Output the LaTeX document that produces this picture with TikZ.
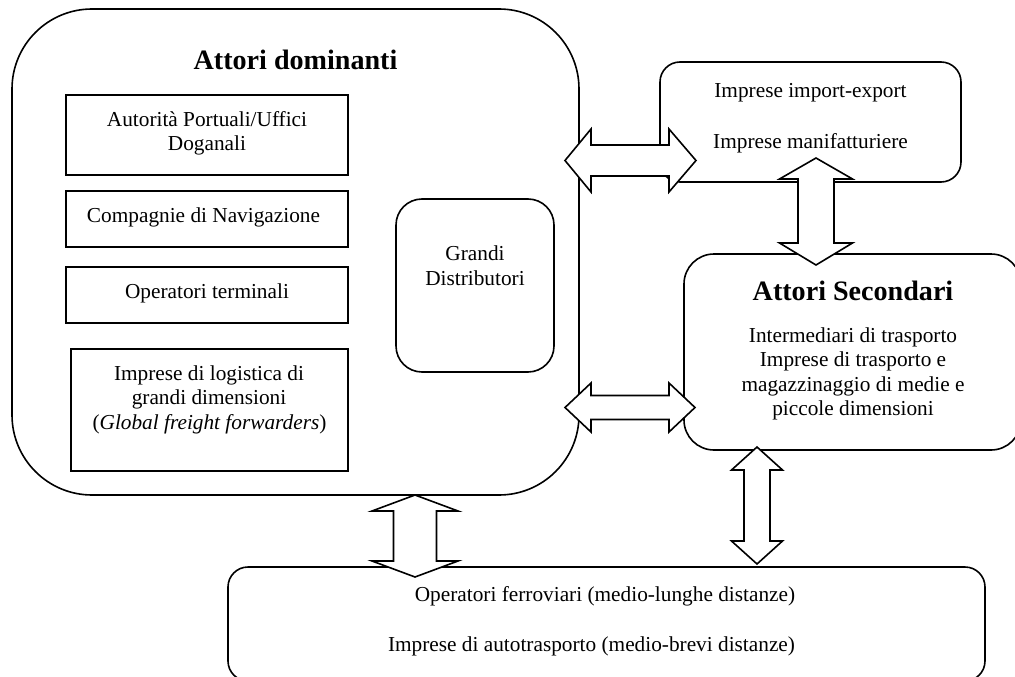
\documentclass[tikz,border=0pt]{standalone}
\usepackage{fontspec}
\setmainfont{Liberation Serif}
\newcommand{\harrow}[8]{% tipL,baseL,baseR,tipR,cy,headhalf,shafthalf,name
  \draw[blockarrow] (#1,#5) -- (#2,#5-#6) -- (#2,#5-#7) -- (#3,#5-#7) -- (#3,#5-#6) -- (#4,#5) -- (#3,#5+#6) -- (#3,#5+#7) -- (#2,#5+#7) -- (#2,#5+#6) -- cycle;}
\newcommand{\varrow}[8]{% tipT,baseT,baseB,tipB,cx,headhalf,shafthalf,name
  \draw[blockarrow] (#5,#1) -- (#5+#6,#2) -- (#5+#7,#2) -- (#5+#7,#3) -- (#5+#6,#3) -- (#5,#4) -- (#5-#6,#3) -- (#5-#7,#3) -- (#5-#7,#2) -- (#5-#6,#2) -- cycle;}
\begin{document}
\begin{tikzpicture}[x=1pt,y=-1pt,
  panel/.style={draw=black,line width=1.6pt,fill=white,inner sep=0pt},
  sq/.style={draw=black,line width=1.6pt,fill=white,inner sep=0pt},
  blockarrow/.style={draw=black,line width=1.6pt,fill=white,line join=miter},
  body/.style={font=\fontsize{21.3}{24}\selectfont,anchor=base,inner sep=0pt},
  head/.style={font=\fontsize{28.1}{32}\selectfont\bfseries,anchor=base,inner sep=0pt}]
\clip (0,0) rectangle (1015,677);
\useasboundingbox (0,0) rectangle (1015,677);
\fill[white] (0,0) rectangle (1015,677);
% panels
\node[panel,rounded corners=80pt,minimum width=567pt,minimum height=486pt] (main) at (295.5,252) {};
\node[panel,rounded corners=20pt,minimum width=301pt,minimum height=120pt] (imp) at (810.5,122) {};
\node[panel,rounded corners=30pt,minimum width=337pt,minimum height=196pt] (sec) at (852.5,352) {};
\node[panel,rounded corners=20pt,minimum width=757pt,minimum height=114pt] (ops) at (606.5,624) {};
\node[panel,rounded corners=26pt,minimum width=158pt,minimum height=173pt] (gd) at (475,285.5) {};
\node[sq,minimum width=282pt,minimum height=80pt] (r1) at (207,135) {};
\node[sq,minimum width=282pt,minimum height=56pt] (r2) at (207,219) {};
\node[sq,minimum width=282pt,minimum height=56pt] (r3) at (207,295) {};
\node[sq,minimum width=277pt,minimum height=122pt] (r4) at (209.5,410) {};
% block arrows
\harrow{565}{591}{669}{696}{160.5}{31.5}{15.5}{a1}
\varrow{158}{179}{243}{265}{816}{36.5}{18}{a2}
\harrow{565}{591}{669}{695}{407.5}{24.5}{12}{a3}
\varrow{495}{511}{561}{577}{415}{43}{21.5}{a4}
\varrow{447}{470}{541}{564}{757}{25.5}{13}{a5}
% texts
\node[head] (t1) at (295.5,69.5) {Attori dominanti};
\node[body] (t2) at (207,126) {Autorità Portuali/Uffici};
\node[body] (t3) at (207,150.5) {Doganali};
\node[body] (t4) at (203.5,222.5) {Compagnie di Navigazione};
\node[body] (t5) at (207,298) {Operatori terminali};
\node[body] (t6) at (209,380) {Imprese di logistica di};
\node[body] (t7) at (209,404.5) {grandi dimensioni};
\node[body] (t8) at (209.5,429) {(\textit{Global freight forwarders})};
\node[body] (t9) at (475,260.5) {Grandi};
\node[body] (t10) at (475,285) {Distributori};
\node[body] (t11) at (810.5,98) {Imprese import-export};
\node[body] (t12) at (810.5,148) {Imprese manifatturiere};
\node[head] (t13) at (853,300.5) {Attori Secondari};
\node[body] (t14) at (853,342) {Intermediari di trasporto};
\node[body] (t15) at (853,366.5) {Imprese di trasporto e};
\node[body] (t16) at (853,391) {magazzinaggio di medie e};
\node[body] (t17) at (853,415.5) {piccole dimensioni};
\node[body] (t18) at (605,601) {Operatori ferroviari (medio-lunghe distanze)};
\node[body] (t19) at (591.5,651) {Imprese di autotrasporto (medio-brevi distanze)};
\end{tikzpicture}
\end{document}
